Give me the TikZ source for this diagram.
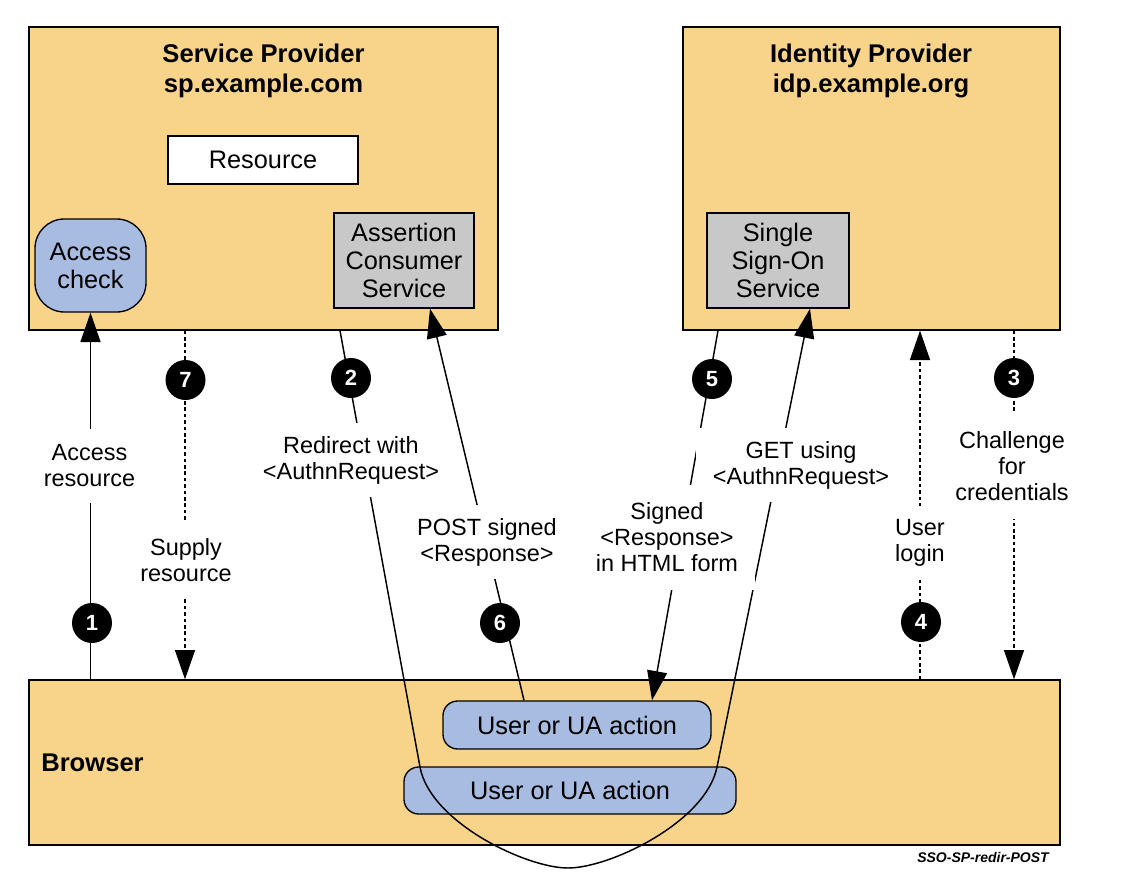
\documentclass[tikz,border=0pt]{standalone}
\usepackage{fontspec}
\setmainfont{Liberation Sans}
\usetikzlibrary{arrows.meta,fit,calc}

\definecolor{panel}{RGB}{248,212,138}
\definecolor{action}{RGB}{168,187,224}
\definecolor{service}{RGB}{200,200,200}

\begin{document}
\begin{tikzpicture}[x=0.75pt,y=-0.75pt,
  panelbox/.style={draw=black, line width=1pt, fill=panel, inner sep=0pt},
  svcbox/.style={draw=black, line width=1pt, fill=service, inner sep=0pt,
    align=center, font=\fontsize{19}{21}\selectfont},
  resbox/.style={svcbox, fill=white},
  actbox/.style={svcbox, fill=action, rounded corners=11pt},
  heading/.style={inner sep=0pt, align=center, anchor=north,
    font=\bfseries\fontsize{19.2}{22}\selectfont},
  msg/.style={fill=white, inner xsep=13pt, inner ysep=0pt, align=center,
    minimum height=55.5pt, font=\fontsize{17.6}{19.5}\selectfont},
  msgtall/.style={msg, minimum height=78.75pt},
  num/.style={circle, fill=black, text=white, inner sep=0pt, minimum size=30pt,
    font=\bfseries\fontsize{16.5}{16.5}\selectfont},
  wire/.style={line width=1.1pt, -{Triangle[length=22pt,width=15pt]}},
  dotwire/.style={wire, dash pattern=on 2.6pt off 2.2pt},
]
\useasboundingbox (0,0) rectangle (1132,892);

% participants
\node[panelbox, fit={(29,27) (498,330)}] (sp) {};
\node[panelbox, fit={(683,27) (1060,330)}] (idp) {};
\node[panelbox, fit={(29,680) (1060,845)}] (browser) {};

\node[heading] (sptitle) at (263.5,44) {Service Provider\\sp.example.com};
\node[heading] (idptitle) at (871,44) {Identity Provider\\idp.example.org};
\node[anchor=west, inner sep=0pt, font=\bfseries\fontsize{19.2}{22}\selectfont]
  (browsertitle) at (41,763) {Browser};

% components
\node[resbox, minimum width=142.5pt, minimum height=36pt] (res) at (263,160) {Resource};
\node[actbox, rounded corners=22pt, minimum width=83.25pt, minimum height=69.75pt]
  (acc) at (90.5,265.5) {Access\\check};
\node[svcbox, minimum width=105pt, minimum height=71.25pt]
  (acs) at (404,260.5) {Assertion\\Consumer\\Service};
\node[svcbox, minimum width=106.5pt, minimum height=71.25pt]
  (sso) at (778,260.5) {Single\\Sign-On\\Service};
\node[actbox, minimum width=201pt, minimum height=36pt] (ua1) at (577,725) {User or UA action};
\node[actbox, minimum width=249pt, minimum height=35.25pt] (ua2) at (570,790.5) {User or UA action};

% lanes of the message lines
\coordinate (k7) at (185,0);
\coordinate (k2) at (340,0);
\coordinate (k6) at (430,0);
\coordinate (k6b) at (524,0);
\coordinate (k5) at (718,0);
\coordinate (k5b) at (652,0);
\coordinate (kget) at (810,0);
\coordinate (k4) at (920,0);
\coordinate (k3) at (1014,0);
% turning points of the redirect loop
\coordinate (dipL) at (420,767);
\coordinate (dipB) at (568,868);
\coordinate (dipR) at (717,767);

% messages
\draw[wire] (acc.south |- browser.north) -- (acc.south);
\draw[dotwire] (sp.south -| k7) -- (browser.north -| k7);
\draw[wire] (sp.south -| k2) -- (dipL)
  .. controls +(10,55) and +(-42,0) .. (dipB)
  .. controls +(42,0) and +(-11,55) .. (dipR) -- (sso.south -| kget);
\draw[wire] (ua1.north -| k6b) -- (acs.south -| k6);
\draw[wire] (idp.south -| k5) -- (ua1.north -| k5b);
\draw[dotwire] (browser.north -| k4) -- (idp.south -| k4);
\draw[dotwire] (idp.south -| k3) -- (browser.north -| k3);

% message labels
\node[msg] (m1) at (89.5,466) {Access\\resource};
\node[msg] (m7) at (186,560) {Supply\\resource};
\node[msg] (m2) at (351,460) {Redirect with\\<AuthnRequest>};
\node[msg] (m6) at (487,542) {POST signed\\<Response>};
\node[msgtall] (m5) at (667,537) {Signed\\<Response>\\in HTML form};
\node[msg] (mget) at (801,465) {GET using\\<AuthnRequest>};
\node[msg] (m4) at (920,543) {User\\login};
\node[msgtall] (m3) at (1012,466) {Challenge\\for\\credentials};

% step numbers
\node[num] (n1) at (92,623) {1};
\node[num] (n2) at (351,378) {2};
\node[num] (n3) at (1014,378) {3};
\node[num] (n4) at (921,622) {4};
\node[num] (n5) at (712,379) {5};
\node[num] (n6) at (500,623) {6};
\node[num] (n7) at (185.5,380) {7};

\node[inner sep=0pt, font=\bfseries\itshape\fontsize{10.5}{12}\selectfont]
  (tag) at (983,857) {SSO-SP-redir-POST};
\end{tikzpicture}
\end{document}
